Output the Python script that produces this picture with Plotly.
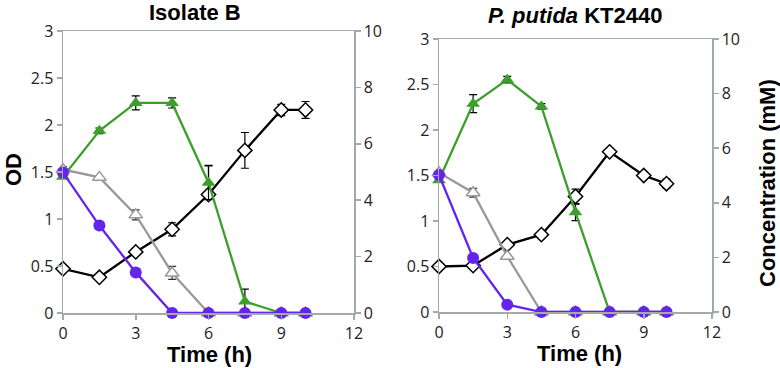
import plotly.graph_objects as go

time_h = [0, 1.5, 3, 4.5, 6, 7.5, 9, 10]

# Isolate B
b_od = [0.47, 0.38, 0.65, 0.89, 1.26, 1.73, 2.16, 2.16]
b_od_err_p = [0.0, 0.0, 0.03, 0.07, 0.31, 0.19, 0.06, 0.09]
b_od_err_m = [0.0, 0.0, 0.03, 0.07, 0.05, 0.19, 0.06, 0.09]
b_green = [4.83, 6.46, 7.45, 7.45, 4.62, 0.41, 0.0, 0.0]
b_green_err = [0.0, 0.1, 0.25, 0.18, 0.6, 0.44, 0.0, 0.0]
b_gray = [5.09, 4.81, 3.48, 1.42, 0.0, 0.0, 0.0, 0.0]
b_gray_err = [0.1, 0.0, 0.18, 0.23, 0.0, 0.0, 0.0, 0.0]
b_purple = [4.98, 3.10, 1.44, 0.0, 0.0, 0.0, 0.0, 0.0]

# P. putida KT2440
p_od = [0.50, 0.51, 0.74, 0.85, 1.27, 1.76, 1.50, 1.41]
p_od_err = [0.0, 0.0, 0.0, 0.0, 0.08, 0.03, 0.02, 0.05]
p_green = [4.83, 7.63, 8.51, 7.53, 3.65, 0.0, 0.0, 0.0]
p_green_err = [0.0, 0.33, 0.12, 0.1, 0.3, 0.0, 0.0, 0.0]
p_gray = [5.10, 4.37, 2.04, 0.0, 0.0, 0.0, 0.0, 0.0]
p_gray_err = [0.0, 0.16, 0.0, 0.0, 0.0, 0.0, 0.0, 0.0]
p_purple = [5.02, 1.98, 0.27, 0.0, 0.0, 0.0, 0.0, 0.0]

x_ticks = [0, 3, 6, 9, 12]
od_ticks = [0, 0.5, 1, 1.5, 2, 2.5, 3]
conc_ticks = [0, 2, 4, 6, 8, 10]

GREEN = "#3c9f2a"
PURPLE = "#6424ec"
GRAY = "#999999"
AXIS = "#a4a9a9"
TICKFONT = dict(family="Open Sans", size=16, color="#222222")
W = 780
H = 368

fig = go.Figure()


def add_panel(xa, ya_od, ya_c, od, od_ep, od_em, green, green_err, gray, gray_err, purple):
    fig.add_trace(go.Scatter(
        x=time_h, y=od, xaxis=xa, yaxis=ya_od, mode="lines+markers", cliponaxis=False,
        line=dict(color="black", width=2.3),
        marker=dict(symbol="diamond", size=11, color="white", line=dict(color="black", width=1.5)),
        error_y=dict(type="data", array=od_ep, arrayminus=od_em, color="black", thickness=1.2, width=4),
        showlegend=False))
    fig.add_trace(go.Scatter(
        x=time_h, y=gray, xaxis=xa, yaxis=ya_c, mode="lines+markers", cliponaxis=False,
        line=dict(color=GRAY, width=2.3),
        marker=dict(symbol="triangle-up", size=12, color="white", line=dict(color=GRAY, width=1.5)),
        error_y=dict(type="data", array=gray_err, color="#333333", thickness=1.2, width=4),
        showlegend=False))
    fig.add_trace(go.Scatter(
        x=time_h, y=green, xaxis=xa, yaxis=ya_c, mode="lines+markers", cliponaxis=False,
        line=dict(color=GREEN, width=2.3),
        marker=dict(symbol="triangle-up", size=12, color=GREEN),
        error_y=dict(type="data", array=green_err, color="black", thickness=1.2, width=4),
        showlegend=False))
    fig.add_trace(go.Scatter(
        x=time_h, y=purple, xaxis=xa, yaxis=ya_c, mode="lines+markers", cliponaxis=False,
        line=dict(color=PURPLE, width=2.3),
        marker=dict(symbol="circle", size=12, color=PURPLE),
        showlegend=False))


add_panel("x", "y", "y2", b_od, b_od_err_p, b_od_err_m, b_green, b_green_err, b_gray, b_gray_err, b_purple)
add_panel("x2", "y3", "y4", p_od, p_od_err, p_od_err, p_green, p_green_err, p_gray, p_gray_err, p_purple)

common = dict(showline=True, linecolor=AXIS, linewidth=1.5, ticks="outside", ticklen=5,
              tickcolor=AXIS, tickwidth=1.5, showgrid=False, zeroline=False,
              tickfont=TICKFONT, automargin=False)
xcommon = dict(range=[0, 12], tickvals=x_ticks, mirror=True, **common)
odcommon = dict(range=[0, 3], tickvals=od_ticks, side="left", **common)
ccommon = dict(range=[0, 10], tickvals=conc_ticks, side="right", **common)

L = (63 / W, 354 / W)
R = (439 / W, 712 / W)
LY = ((H - 313) / H, (H - 31) / H)
RY = ((H - 312) / H, (H - 39) / H)

fig.update_layout(
    template="none",
    width=W, height=H, margin=dict(l=0, r=0, t=0, b=0, pad=0),
    paper_bgcolor="white", plot_bgcolor="white",
    xaxis=dict(domain=L, anchor="y", **xcommon),
    yaxis=dict(domain=LY, anchor="x", **odcommon),
    yaxis2=dict(overlaying="y", anchor="x", **ccommon),
    xaxis2=dict(domain=R, anchor="y3", **xcommon),
    yaxis3=dict(domain=RY, anchor="x2", **odcommon),
    yaxis4=dict(overlaying="y3", anchor="x2", **ccommon),
)

TFONT = dict(family="Liberation Sans", size=22, color="black")
annots = [
    dict(text="<b>Isolate B</b>", x=195 / W, y=(H - 13) / H),
    dict(text="<b><i>P. putida</i> KT2440</b>", x=575 / W, y=(H - 16) / H),
    dict(text="<b>Time (h)</b>", x=209 / W, y=(H - 354) / H),
    dict(text="<b>Time (h)</b>", x=579 / W, y=(H - 353) / H),
    dict(text="<b>OD</b>", x=13 / W, y=(H - 170) / H, textangle=-90),
    dict(text="<b>Concentration (mM)</b>", x=767 / W, y=(H - 183) / H, textangle=-90),
]
for a in annots:
    fig.add_annotation(xref="paper", yref="paper", xanchor="center", yanchor="middle",
                       showarrow=False, font=TFONT, borderpad=0, **a)

fig.write_html("out.html",
               config={"displayModeBar": False, "staticPlot": True},
               post_script="document.body.style.margin='0';document.body.style.overflow='hidden';")
